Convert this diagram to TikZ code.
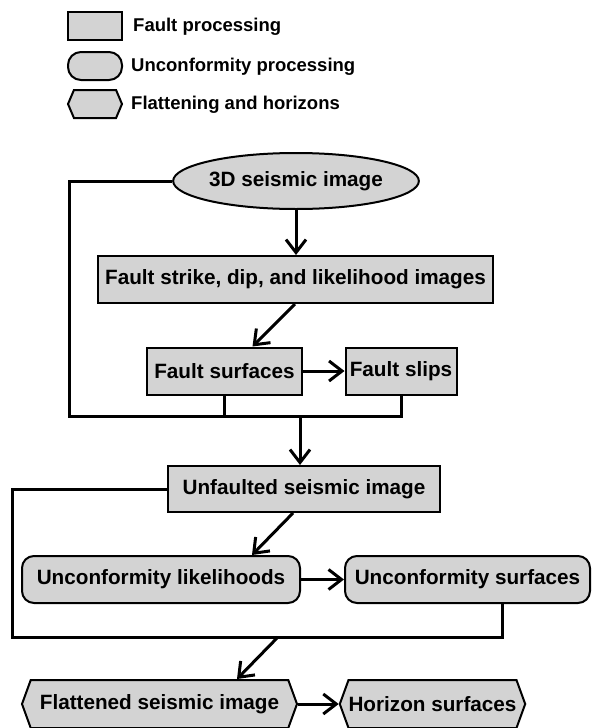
\documentclass[tikz,border=0pt]{standalone}
\usepackage{fontspec}
\setmainfont{Liberation Sans}
\usetikzlibrary{shapes.geometric,shapes.symbols,arrows.meta,calc}
\definecolor{boxgray}{RGB}{211,211,211}
\begin{document}
\begin{tikzpicture}[x=1pt,y=-1pt,
  base/.style={draw=black, fill=boxgray, line width=2pt, inner sep=0pt, font=\bfseries\fontsize{20.7}{24}\selectfont},
  fbox/.style={base, rectangle, minimum height=47pt},
  ubox/.style={base, rectangle, rounded corners=12pt, minimum height=47pt},
  hbox/.style={base, signal, signal to=west and east, signal pointer angle=140, minimum height=48pt},
  ebox/.style={base, ellipse},
  legtext/.style={anchor=west, inner sep=0pt, font=\bfseries\fontsize{18.5}{22}\selectfont},
  conn/.style={line width=3pt},
  arr/.style={conn, -{Straight Barb[length=13pt,width=20pt]}},
]
\useasboundingbox (0,0) rectangle (592,728);

% legend
\node[fbox, minimum width=54pt, minimum height=28pt] (lf) at (95,26) {};
\node[ubox, rounded corners=13pt, minimum width=54pt, minimum height=28pt] (lu) at (95,66) {};
\node[hbox, minimum width=54pt, minimum height=28pt, signal pointer angle=134] (lh) at (95,104) {};
\node[legtext] (lft) at (133,27) {Fault processing};
\node[legtext] (lut) at (131,67) {Unconformity processing};
\node[legtext] (lht) at (131,105) {Flattening and horizons};

% main nodes
\node[ebox, minimum width=228pt, minimum height=56pt] (seis) at (296,181) {3D seismic image};
\node[fbox, minimum width=395pt] (strike) at (295.5,279.5) {Fault strike, dip, and likelihood images};
\node[fbox, minimum width=155pt] (fsurf) at (224.5,371) {Fault surfaces};
\node[fbox, minimum width=111pt] (fslip) at (401,371) {Fault slips};
\node[fbox, minimum width=272pt, minimum height=46pt] (unfault) at (304,489) {Unfaulted seismic image};
\node[ubox, minimum width=278pt] (ulik) at (161,579.5) {Unconformity likelihoods};
\node[ubox, minimum width=245pt] (usurf) at (467.5,579.5) {Unconformity surfaces};
\node[hbox, minimum width=275pt] (flat) at (159.5,704) {Flattened seismic image};
\node[hbox, minimum width=175pt] (horiz) at (432.5,704) {Horizon surfaces};

% junction coordinates
\coordinate (lb1) at (69,416);
\coordinate (j1) at (300,416);
\coordinate (lb2) at (12,637);
\coordinate (j2) at (278,637);

% connectors
\draw[arr] (seis.south) -- (seis.south |- strike.north);
\draw[arr] ([xshift=-0.5pt]strike.south) -- ([xshift=28pt]fsurf.north);
\draw[arr] (fsurf.east) -- (fslip.west);
\draw[conn] (seis.west) -| (lb1) -| (fslip.south);
\draw[conn] (fsurf.south) -- (fsurf.south |- lb1);
\draw[arr] (j1) -- (j1 |- unfault.north);
\draw[arr] ([xshift=-11pt]unfault.south) -- ([xshift=91pt]ulik.north);
\draw[arr] (ulik.east) -- (usurf.west);
\draw[conn] (unfault.west) -| (lb2) -| ([xshift=34.5pt]usurf.south);
\draw[arr] (j2) -- ([xshift=77.5pt]flat.north);
\draw[arr] (flat.east) -- (horiz.west);
\end{tikzpicture}
\end{document}
